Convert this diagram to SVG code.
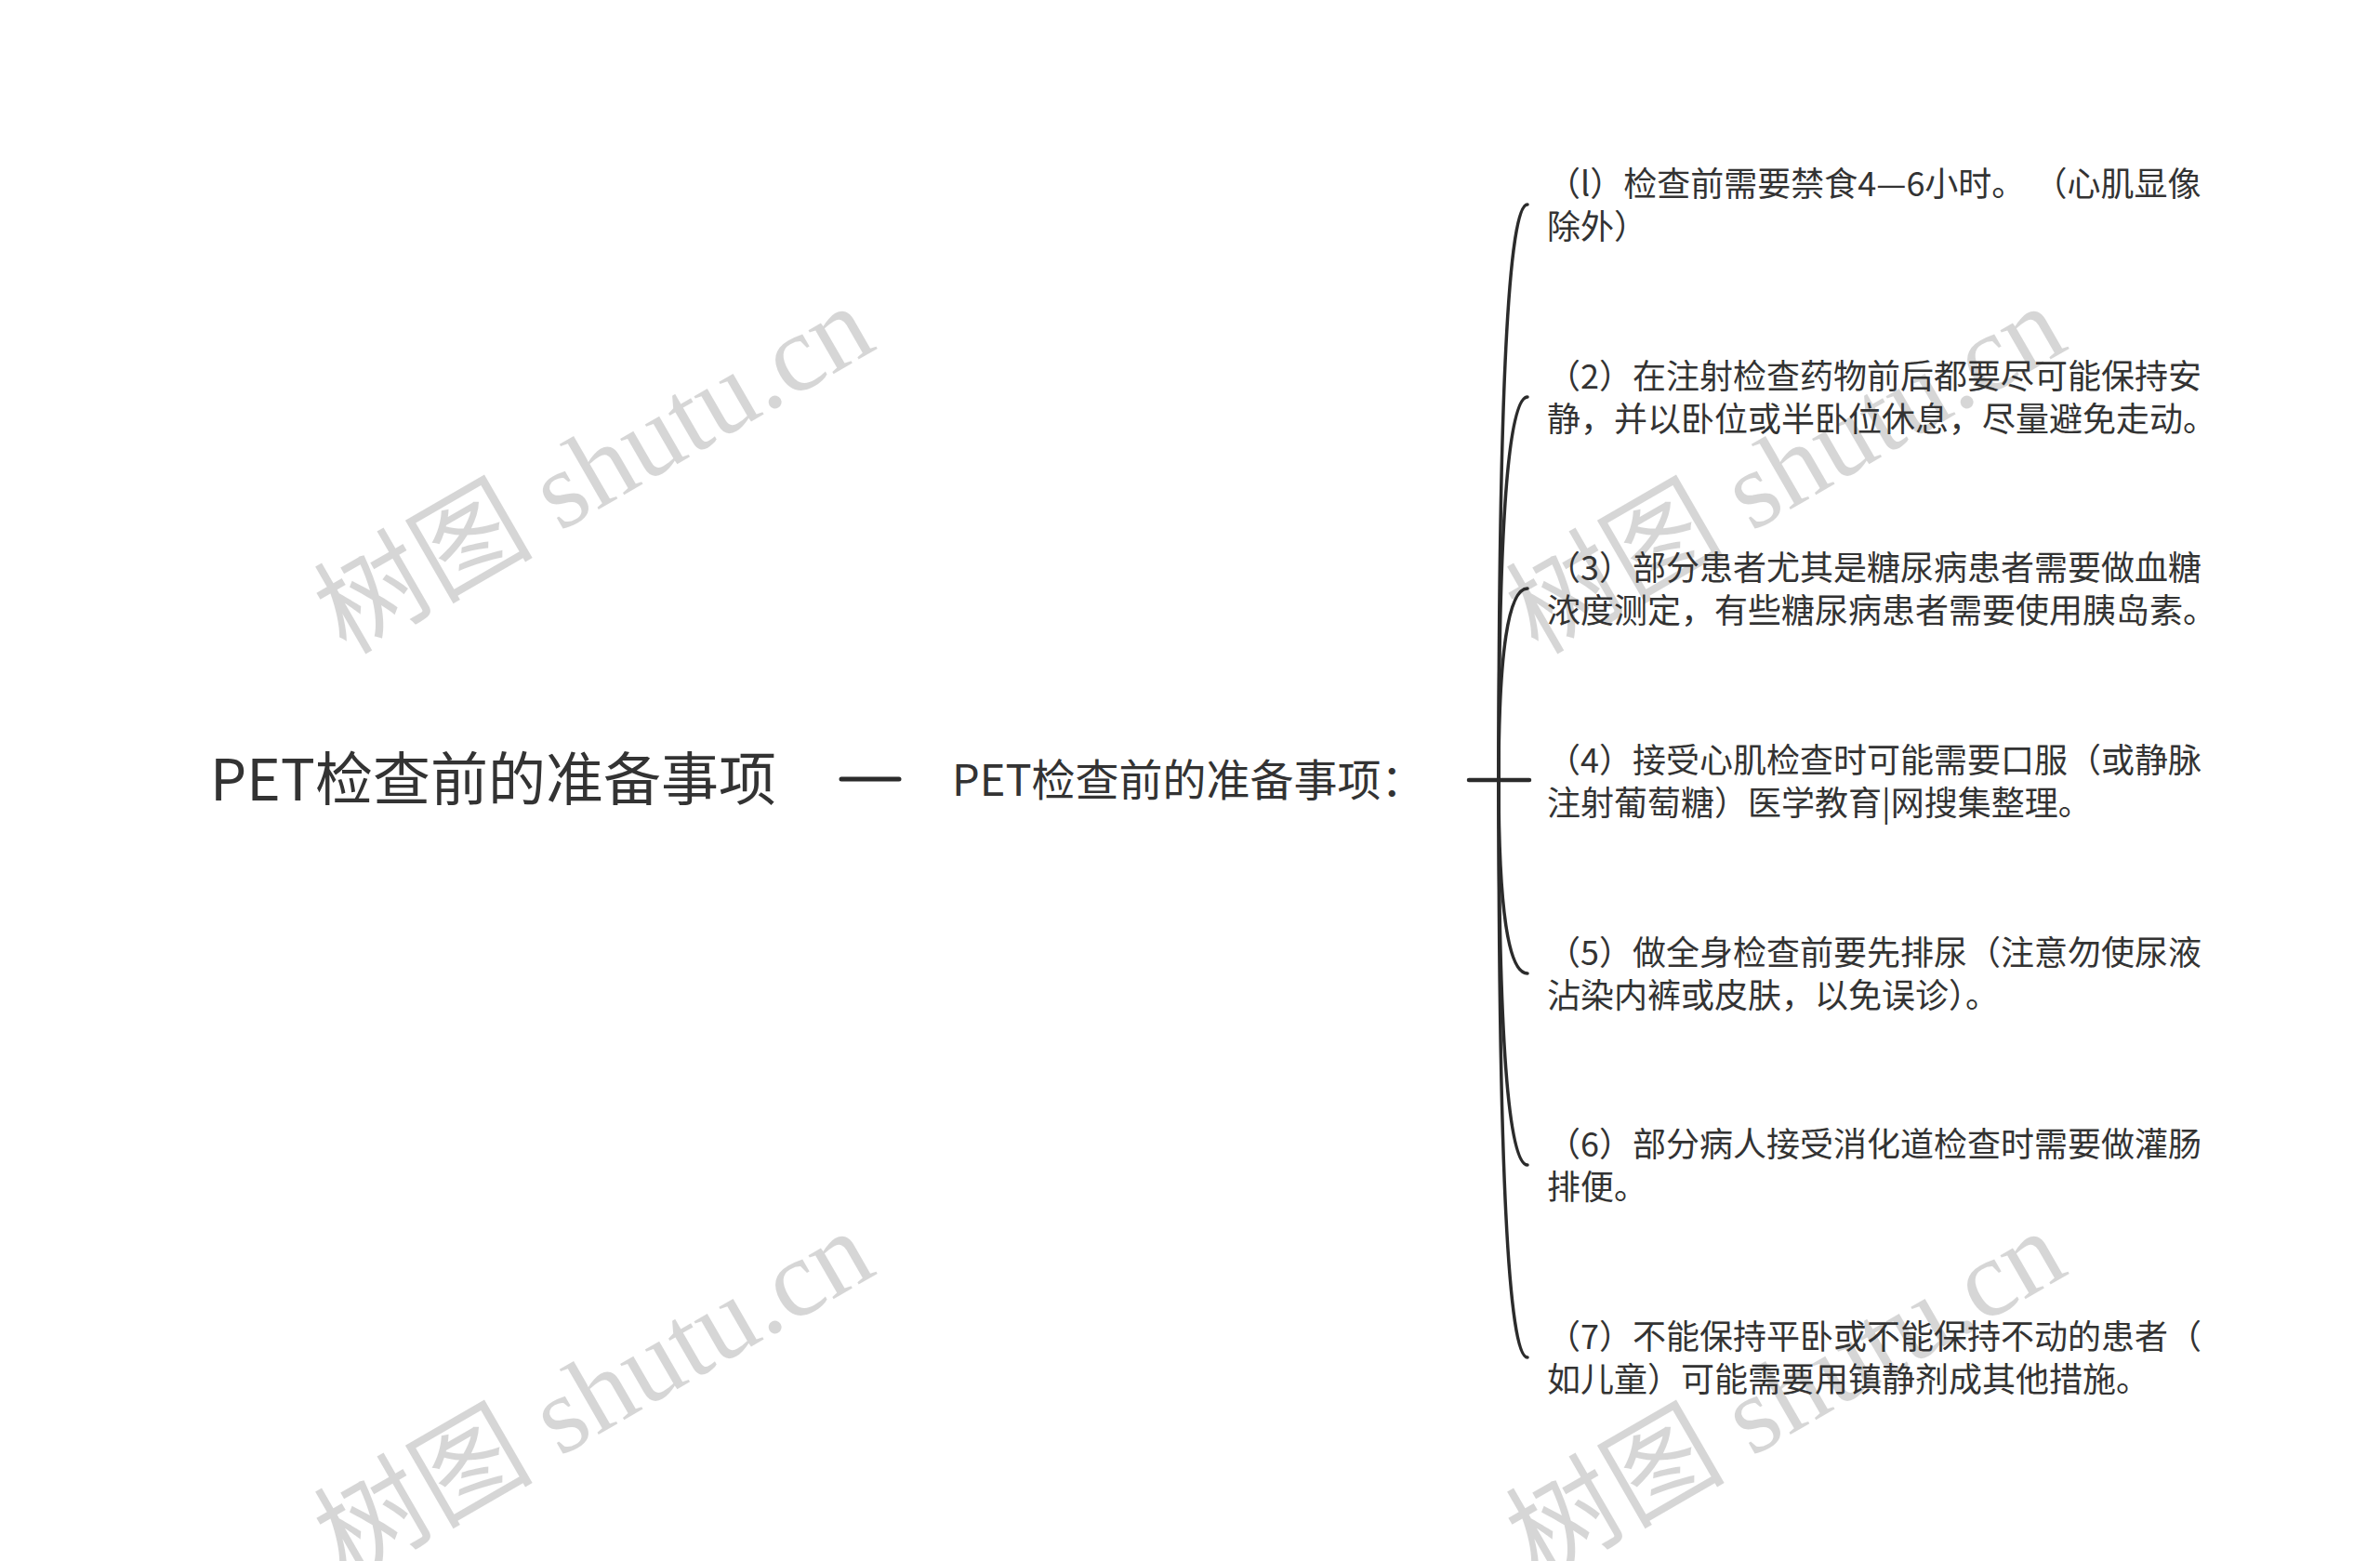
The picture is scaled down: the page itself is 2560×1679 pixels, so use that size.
<svg xmlns="http://www.w3.org/2000/svg" width="2560" height="1679" viewBox="0 0 2560 1679">
<style>
.t{font-family:"Noto Sans CJK SC","Noto Sans",sans-serif;fill:#333333}
.c{font-size:36px}
.wm{font-family:"Liberation Serif","Noto Sans CJK SC",serif;font-size:118px;fill:#000;fill-opacity:0.16}
.ln{stroke:#2b2b2b;fill:none;stroke-linecap:round}
</style>
<rect width="2560" height="1679" fill="#ffffff"/>
<g id="watermarks">
<text class="wm" transform="translate(372 705) rotate(-30)">树图 shutu.cn</text>
<text class="wm" transform="translate(1654 705) rotate(-30)">树图 shutu.cn</text>
<text class="wm" transform="translate(372 1700) rotate(-30)">树图 shutu.cn</text>
<text class="wm" transform="translate(1654 1700) rotate(-30)">树图 shutu.cn</text>
</g>
<g id="connectors">
<line class="ln" x1="905" y1="838" x2="967" y2="838" stroke-width="5"/>
<line class="ln" x1="1580" y1="839" x2="1645" y2="839" stroke-width="4.5"/>
<path class="ln" stroke-width="3.5" d="M1612 839 Q1612 220 1643 220"/>
<path class="ln" stroke-width="3.5" d="M1612 839 Q1612 427 1643 427"/>
<path class="ln" stroke-width="3.5" d="M1612 839 Q1612 633 1643 633"/>
<path class="ln" stroke-width="3.5" d="M1612 839 Q1612 1047 1643 1047"/>
<path class="ln" stroke-width="3.5" d="M1612 839 Q1612 1253 1643 1253"/>
<path class="ln" stroke-width="3.5" d="M1612 839 Q1612 1460 1643 1460"/>
</g>
<g id="root"><text class="t" x="226" y="861" font-size="62">PET检查前的准备事项</text></g>
<g id="mid"><text class="t" x="1024" y="856" font-size="47">PET检查前的准备事项：</text></g>
<g id="c1"><text class="t c" x="1664" y="211">（l）检查前需要禁食4—6小时。<tspan dx="27">（心肌显像</tspan></text><text class="t c" x="1664" y="257">除外）</text></g>
<g id="c2"><text class="t c" x="1664" y="418">（2）在注射检查药物前后都要尽可能保持安</text><text class="t c" x="1664" y="464">静，并以卧位或半卧位休息，尽量避免走动。</text></g>
<g id="c3"><text class="t c" x="1664" y="624">（3）部分患者尤其是糖尿病患者需要做血糖</text><text class="t c" x="1664" y="670">浓度测定，有些糖尿病患者需要使用胰岛素。</text></g>
<g id="c4"><text class="t c" x="1664" y="831">（4）接受心肌检查时可能需要口服（或静脉</text><text class="t c" x="1664" y="877">注射葡萄糖）医学教育|网搜集整理。</text></g>
<g id="c5"><text class="t c" x="1664" y="1038">（5）做全身检查前要先排尿（注意勿使尿液</text><text class="t c" x="1664" y="1084">沾染内裤或皮肤，以免误诊）。</text></g>
<g id="c6"><text class="t c" x="1664" y="1244">（6）部分病人接受消化道检查时需要做灌肠</text><text class="t c" x="1664" y="1290">排便。</text></g>
<g id="c7"><text class="t c" x="1664" y="1451">（7）不能保持平卧或不能保持不动的患者（</text><text class="t c" x="1664" y="1497">如儿童）可能需要用镇静剂成其他措施。</text></g>
</svg>
